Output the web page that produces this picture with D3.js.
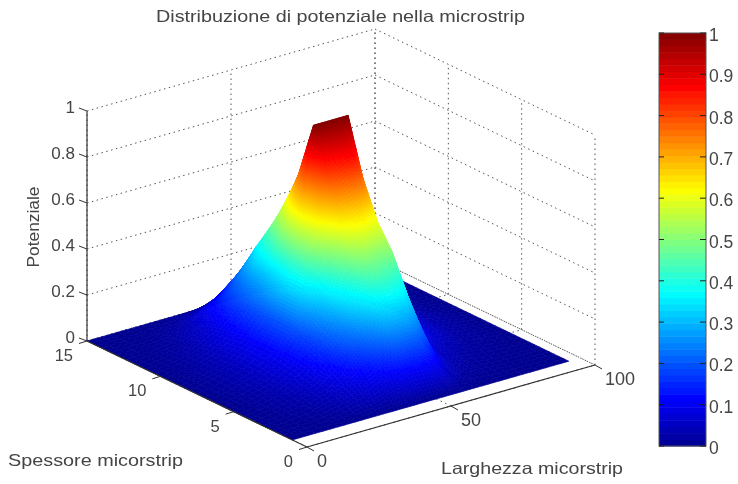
<!DOCTYPE html>
<html>
<head>
<meta charset="utf-8">
<title>Distribuzione di potenziale nella microstrip</title>
<script src="https://d3js.org/d3.v7.min.js"></script>
<style>
html, body { margin: 0; padding: 0; background: #fff; }
svg { display: block; }
text { font-family: "Liberation Sans", Arial, sans-serif; fill: #444; }
</style>
</head>
<body>
<div id="chart"></div>
<script>

var width = 738;
var height = 484;

// larghezza and spessore grid of the surface
var xGrid = [0, 8, 16, 24, 30, 36, 40, 43, 46, 49, 52, 55, 57, 60, 66, 72, 80, 88, 96];
var yGrid = [1, 2, 3, 4, 5, 6, 7, 8, 9, 10, 11, 12, 13, 14, 15];

// potential, one row for each spessore value
var potential = [
  [0, 0, 0, 0, 0, 0, 0, 0, 0, 0, 0, 0, 0, 0, 0, 0, 0, 0, 0],
  [0, .004, .012, .03, .05, .08, .1, .12, .13, .13, .12, .1, .08, .04, .015, .008, .004, .002, 0],
  [0, .008, .02, .05, .09, .15, .2, .26, .28, .28, .27, .22, .17, .08, .035, .018, .008, .004, 0],
  [0, .012, .03, .07, .13, .22, .3, .38, .41, .41, .39, .35, .27, .13, .055, .03, .015, .006, 0],
  [0, .015, .04, .09, .16, .27, .38, .48, .52, .5, .5, .5, .39, .23, .09, .05, .02, .01, 0],
  [0, .018, .045, .1, .18, .32, .48, .6, .64, .66, .62, .6, .5, .29, .14, .07, .03, .012, 0],
  [0, .02, .05, .11, .2, .42, .66, .8, .84, .86, .86, .76, .62, .35, .17, .08, .035, .014, 0],
  [0, .02, .05, .11, .2, .42, .72, 1, 1, 1, 1, 1, .68, .36, .18, .09, .04, .015, 0],
  [0, .018, .045, .105, .19, .36, .6, .76, .82, .84, .84, .8, .6, .32, .16, .08, .035, .012, 0],
  [0, .015, .04, .095, .175, .31, .46, .58, .66, .7, .7, .68, .52, .27, .13, .065, .03, .01, 0],
  [0, .012, .03, .08, .155, .27, .38, .46, .5, .54, .54, .52, .42, .22, .11, .05, .022, .008, 0],
  [0, .008, .02, .06, .125, .21, .28, .34, .37, .39, .39, .37, .32, .17, .08, .04, .016, .006, 0],
  [0, .005, .012, .035, .085, .13, .18, .21, .24, .26, .26, .24, .21, .11, .05, .025, .01, .004, 0],
  [0, .002, .006, .015, .03, .05, .08, .1, .12, .13, .13, .12, .1, .05, .025, .012, .005, .002, 0],
  [0, 0, 0, 0, 0, 0, 0, 0, 0, 0, 0, 0, 0, 0, 0, 0, 0, 0, 0]
];

var xTicks = [0, 50, 100];
var yTicks = [0, 5, 10, 15];
var zTicks = [0, 0.2, 0.4, 0.6, 0.8, 1];
var barTicks = [0, 0.1, 0.2, 0.3, 0.4, 0.5, 0.6, 0.7, 0.8, 0.9, 1];

var jetStops = [0, 0.115, 0.37, 0.62, 0.87, 1];
var jetColors = ["#00008f", "#0000ff", "#00ffff", "#ffff00", "#ff0000", "#800000"];

var svg = d3.select("#chart")
  .append("svg")
  .attr("width", width)
  .attr("height", height);

svg.append("filter").attr("id", "soft")
  .attr("filterUnits", "userSpaceOnUse")
  .attr("x", 0).attr("y", 0)
  .attr("width", width).attr("height", height)
  .append("feGaussianBlur").attr("stdDeviation", 0.6);

var root = svg.append("g").attr("filter", "url(#soft)");

var jet = d3.scaleLinear().domain(jetStops).range(jetColors).clamp(true);

// the 3d box is drawn with an affine view, front corner is x=0 y=0
var frontX = 307, frontY = 447;
var xToPx = d3.scaleLinear().domain([0, 100]).range([0, 288]);
var xToPy = d3.scaleLinear().domain([0, 100]).range([0, -82]);
var yToPx = d3.scaleLinear().domain([0, 15]).range([0, -220]);
var yToPy = d3.scaleLinear().domain([0, 15]).range([0, -106]);
var zToPy = d3.scaleLinear().domain([0, 1]).range([0, -230]);

function proj(x, y, z) {
  return [frontX + xToPx(x) + yToPx(y), frontY + xToPy(x) + yToPy(y) + zToPy(z)];
}

function seg(parent, a, b, color, dash, w) {
  parent.append("line")
    .attr("x1", a[0]).attr("y1", a[1])
    .attr("x2", b[0]).attr("y2", b[1])
    .attr("stroke", color)
    .attr("stroke-width", w)
    .attr("stroke-dasharray", dash);
}

function label(str, x, y, size, anchor, len) {
  var t = root.append("text")
    .attr("x", x).attr("y", y)
    .attr("font-size", size)
    .attr("text-anchor", anchor)
    .text(str);
  if (len) t.attr("textLength", len).attr("lengthAdjust", "spacingAndGlyphs");
  return t;
}

// dotted grid on the back walls and the floor
var grid = root.append("g");
var gridColor = "#555", gridDash = "1.5,3.5";
zTicks.forEach(function(z) {
  seg(grid, proj(0, 15, z), proj(100, 15, z), gridColor, gridDash, 1);
  seg(grid, proj(100, 15, z), proj(100, 0, z), gridColor, gridDash, 1);
});
xTicks.forEach(function(x) {
  seg(grid, proj(x, 15, 0), proj(x, 15, 1), gridColor, gridDash, 1);
  seg(grid, proj(x, 0, 0), proj(x, 15, 0), gridColor, gridDash, 1);
});
yTicks.forEach(function(y) {
  seg(grid, proj(100, y, 0), proj(100, y, 1), gridColor, gridDash, 1);
  seg(grid, proj(0, y, 0), proj(100, y, 0), gridColor, gridDash, 1);
});

// surface pieces, far ones first. Steep cells are split finer so the colour runs smoothly
var pieces = [];
for (var i = xGrid.length - 2; i >= 0; i--) {
  for (var j = yGrid.length - 2; j >= 0; j--) {
    var z00 = potential[j][i], z10 = potential[j][i + 1], z01 = potential[j + 1][i], z11 = potential[j + 1][i + 1];
    var nx = 2 + Math.ceil(60 * Math.max(Math.abs(z10 - z00), Math.abs(z11 - z01)));
    var ny = 2 + Math.ceil(60 * Math.max(Math.abs(z01 - z00), Math.abs(z11 - z10)));
    for (var a = nx - 1; a >= 0; a--) {
      for (var b = ny - 1; b >= 0; b--) {
        pieces.push({i: i, j: j, a: a, b: b, nx: nx, ny: ny});
      }
    }
  }
}

function surfacePoint(i, j, u, v) {
  var z = (1 - u) * (1 - v) * potential[j][i] + u * (1 - v) * potential[j][i + 1]
    + (1 - u) * v * potential[j + 1][i] + u * v * potential[j + 1][i + 1];
  var x = xGrid[i] + u * (xGrid[i + 1] - xGrid[i]);
  var y = yGrid[j] + v * (yGrid[j + 1] - yGrid[j]);
  return {x: x, y: y, z: z};
}

function corners(d) {
  return [[d.a, d.b], [d.a + 1, d.b], [d.a + 1, d.b + 1], [d.a, d.b + 1]].map(function(c) {
    return surfacePoint(d.i, d.j, c[0] / d.nx, c[1] / d.ny);
  });
}

var line = d3.line();

function pieceColor(d) {
  return jet(d3.mean(corners(d), function(p) { return p.z; }));
}

root.append("g").selectAll("path")
  .data(pieces)
  .enter()
    .append("path")
    .attr("d", function(d) {
      return line(corners(d).map(function(p) { return proj(p.x, p.y, p.z); })) + "Z";
    })
    .attr("fill", pieceColor)
    .attr("stroke", pieceColor)
    .attr("stroke-width", 0.7);

// axes
var axisColor = "#333";
seg(root, proj(0, 15, 0), proj(0, 15, 1), axisColor, null, 1.2);
seg(root, proj(0, 15, 0), proj(0, 0, 0), axisColor, null, 1.2);
seg(root, proj(0, 0, 0), proj(100, 0, 0), axisColor, null, 1.2);

zTicks.forEach(function(z) {
  var p = proj(0, 15, z);
  seg(root, p, [p[0] - 8, p[1] - 3], axisColor, null, 1);
  label(String(z), p[0] - 12, p[1] + 1.5, 17, "end");
});
yTicks.forEach(function(y) {
  var p = proj(0, y, 0);
  seg(root, p, [p[0] - 8, p[1] + 2.5], axisColor, null, 1);
  label(String(y), p[0] - 14, p[1] + 20, 16.5, "end");
});
xTicks.forEach(function(x) {
  var p = proj(x, 0, 0);
  seg(root, p, [p[0] + 7, p[1] + 4], axisColor, null, 1);
  label(String(x), p[0] + 10, p[1] + 20, 18, "start");
});

label("Distribuzione di potenziale nella microstrip", 156, 22, 16.5, "start", 369);
label("Spessore micorstrip", 8, 466, 16.5, "start", 175);
label("Larghezza micorstrip", 441, 474, 16.5, "start", 182);
label("Potenziale", 0, 0, 17, "middle", 81)
  .attr("transform", "translate(39,227) rotate(-90)");

// colorbar on the right
var barX = 659, barW = 47;
var barY = d3.scaleLinear().domain([0, 1]).range([446, 33]);
var barSteps = d3.range(64);
var barBand = d3.scaleBand().domain(barSteps).range([barY(0), barY(1)]);

root.append("g").selectAll("rect")
  .data(barSteps)
  .enter()
    .append("rect")
    .attr("x", barX)
    .attr("y", function(d) { return barBand(d); })
    .attr("width", barW)
    .attr("height", barBand.bandwidth() + 0.5)
    .attr("fill", function(d) { return jet((d + 0.5) / 64); });

root.append("rect")
  .attr("x", barX).attr("y", barY(1))
  .attr("width", barW).attr("height", barY(0) - barY(1))
  .attr("fill", "none").attr("stroke", "#555").attr("stroke-width", 1);

barTicks.forEach(function(t) {
  var y = barY(t);
  seg(root, [barX, y], [barX + 5, y], "#222", null, 1);
  seg(root, [barX + barW - 6, y], [barX + barW, y], "#222", null, 1);
  label(String(t), barX + barW + 3, y + 8, 17.5, "start");
});

</script>
</body>
</html>
